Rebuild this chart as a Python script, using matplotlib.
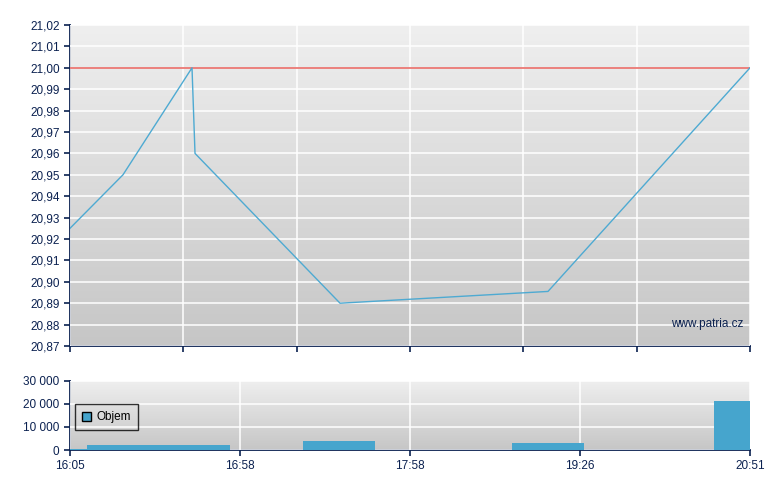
import numpy as np
import matplotlib
matplotlib.use('Agg')
import matplotlib.pyplot as plt
import matplotlib.ticker as ticker
from matplotlib.patches import Patch
from matplotlib.colors import LinearSegmentedColormap

# price line (x in slot units 0..12 across the session, labels evenly spaced)
price_x = [0, 0.935, 2.153, 2.206, 4.765, 8.435, 12]
price_y = [20.925, 20.95, 21.00, 20.96, 20.89, 20.8955, 21.00]
ref_price = 21.00

# volume bars: start, end, volume
vol_start = [0, 0.30, 4.11, 7.80, 11.36]
vol_end = [0.30, 2.82, 5.38, 9.07, 12.0]
vol_val = [500, 2300, 4000, 3200, 21200]

time_labels = ['16:05', '16:58', '17:58', '19:26', '20:51']

navy = '#0b2150'
line_c = '#4eaad2'
bar_c = '#46a5cd'

plt.rcParams['font.family'] = ['Liberation Sans', 'DejaVu Sans']
plt.rcParams['font.size'] = 8

fig = plt.figure(figsize=(7.8, 4.9), dpi=100)
ax = fig.add_axes([70/780, 1-346/490, 680/780, 321/490])
ax2 = fig.add_axes([70/780, 1-450/490, 680/780, 69.3/490])

grad = np.linspace(0, 1, 256).reshape(-1, 1)
cm = LinearSegmentedColormap.from_list('bg', ['#efefef', '#c6c6c6'])

def style(a):
    a.imshow(grad, cmap=cm, aspect='auto', extent=[0, 1, 0, 1],
             transform=a.transAxes, zorder=0)
    for s in ['top', 'right']:
        a.spines[s].set_visible(False)
    for s in ['left', 'bottom']:
        a.spines[s].set_color(navy)
        a.spines[s].set_linewidth(1.3)
    a.tick_params(colors=navy, labelcolor=navy, direction='out', length=4,
                  width=1.2, labelsize=8.5)
    a.grid(True, color='white', linewidth=1.1, zorder=1)
    a.set_axisbelow(False)
    a.set_xlim(0, 12)

style(ax)
ax.set_ylim(20.87, 21.02)
ax.yaxis.set_major_locator(ticker.MultipleLocator(0.01))
ax.yaxis.set_major_formatter(ticker.FuncFormatter(lambda v, p: ('%.2f' % v).replace('.', ',')))
ax.xaxis.set_major_locator(ticker.MultipleLocator(2))
ax.tick_params(axis='x', labelbottom=False)
ax.axhline(ref_price, color='#e8605a', linewidth=1.1, zorder=3)
ax.plot(price_x, price_y, color=line_c, linewidth=1.0, zorder=4)
ax.text(0.99, 0.07, 'www.patria.cz', transform=ax.transAxes, ha='right',
        va='center', color=navy, fontsize=8.5, zorder=5)

style(ax2)
ax2.set_ylim(0, 30000)
ax2.yaxis.set_major_locator(ticker.MultipleLocator(10000))
ax2.yaxis.set_major_formatter(ticker.FuncFormatter(lambda v, p: '{:,.0f}'.format(v).replace(',', ' ')))
ax2.set_xticks([0, 3, 6, 9, 12])
ax2.set_xticklabels(time_labels)
ax2.bar(vol_start, vol_val, width=np.array(vol_end) - np.array(vol_start),
        align='edge', color=bar_c, zorder=3)
leg = ax2.legend(handles=[Patch(facecolor=bar_c, edgecolor='black', label='Objem')],
                 loc='upper left', bbox_to_anchor=(0.007, 0.66), borderaxespad=0,
                 fontsize=8.5, frameon=True, fancybox=False, handlelength=0.8,
                 handleheight=0.8, handletextpad=0.4, borderpad=0.6)
leg.get_frame().set_edgecolor('black')
leg.get_frame().set_facecolor('none')
leg.get_frame().set_linewidth(1.0)
for t in leg.get_texts():
    t.set_color('black')

fig.savefig('out.png', dpi=100)
